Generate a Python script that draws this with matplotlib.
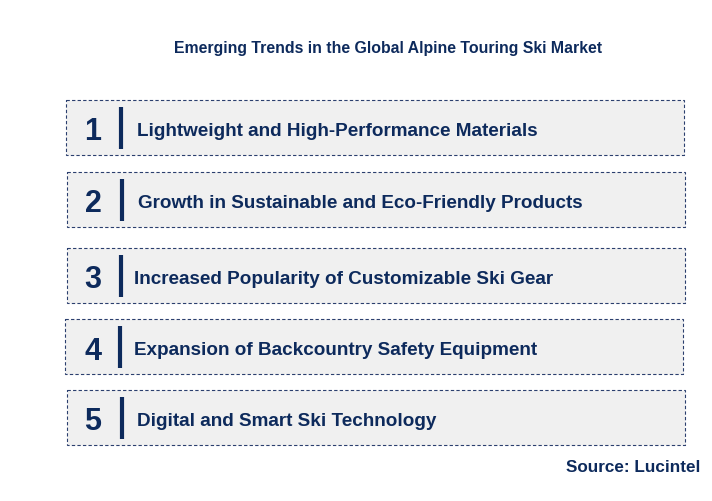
import matplotlib
matplotlib.use("Agg")
import matplotlib.pyplot as plt
from matplotlib.patches import Rectangle

title = "Emerging Trends in the Global Alpine Touring Ski Market"
numbers = ["1", "2", "3", "4", "5"]
trends = [
    "Lightweight and High-Performance Materials",
    "Growth in Sustainable and Eco-Friendly Products",
    "Increased Popularity of Customizable Ski Gear",
    "Expansion of Backcountry Safety Equipment",
    "Digital and Smart Ski Technology",
]
source = "Source: Lucintel"

box_x = [66, 67, 67, 65, 67]
box_y = [100, 172, 248, 319, 390]
box_w = 618
box_h = 55
bar_x = [121, 122, 121, 120, 122]
text_x = [137, 138, 134, 134, 137]

navy = "#0d2a5c"
fig = plt.figure(figsize=(7.12, 5.01), dpi=100)
ax = fig.add_axes([0, 0, 1, 1])
ax.set_xlim(0, 712)
ax.set_ylim(501, 0)
ax.axis("off")

ax.text(388, 48, title, ha="center", va="center", fontsize=11.4,
        fontweight="bold", color=navy, family="Liberation Sans")
for i in range(len(trends)):
    ax.add_patch(Rectangle((box_x[i], box_y[i]), box_w, box_h, facecolor="#f0f0f0",
                           edgecolor="#2b3f6e", linestyle=(0, (3, 2)), linewidth=0.8))
    cy = box_y[i] + box_h / 2
    ax.text(93, cy + 5, numbers[i], ha="center", va="center", fontsize=22,
            fontweight="bold", color=navy, family="Liberation Sans")
    ax.plot([bar_x[i], bar_x[i]], [box_y[i] + 7, box_y[i] + box_h - 6],
            color=navy, linewidth=3, solid_capstyle="butt")
    ax.text(text_x[i], cy + 4, trends[i], ha="left", va="center", fontsize=13.6,
            fontweight="bold", color=navy, family="Liberation Sans")
ax.text(700, 467, source, ha="right", va="center", fontsize=12.3,
        fontweight="bold", color=navy, family="Liberation Sans")
fig.savefig("out.png", dpi=100)
